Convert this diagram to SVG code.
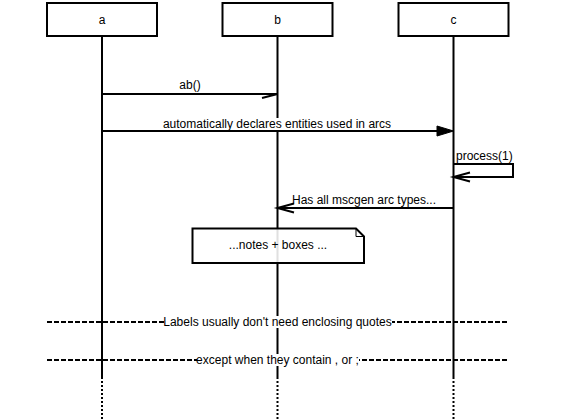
<svg xmlns="http://www.w3.org/2000/svg" width="566" height="420" viewBox="0 0 566 420">
<style>
text{font-family:"Liberation Sans",Arial,Helvetica,sans-serif;font-size:12px;fill:#000}
.box{fill:#fff;stroke:#000;stroke-width:2}
.life{stroke:#000;stroke-width:2;fill:none}
.dot{stroke:#000;stroke-width:2;stroke-dasharray:2,2;fill:none}
.arc{stroke:#000;stroke-width:2;fill:none}
.dash{stroke:#000;stroke-width:2;stroke-dasharray:5,2;fill:none}
.lbg{fill:#fff}
</style>
<rect width="566" height="420" fill="#fff"/>
<g id="lifelines">
<line class="life" x1="102" y1="36" x2="102" y2="379"/>
<line class="life" x1="277.5" y1="36" x2="277.5" y2="379"/>
<line class="life" x1="453.5" y1="36" x2="453.5" y2="379"/>
<line class="dot" x1="102" y1="381" x2="102" y2="420"/>
<line class="dot" x1="277.5" y1="381" x2="277.5" y2="420"/>
<line class="dot" x1="453.5" y1="381" x2="453.5" y2="420"/>
</g>
<g id="a"><rect class="box" x="47" y="3" width="110" height="33"/><text x="102" y="24" text-anchor="middle">a</text></g>
<g id="b"><rect class="box" x="222.5" y="3" width="110" height="33"/><text x="277.5" y="24" text-anchor="middle">b</text></g>
<g id="c"><rect class="box" x="398.5" y="3" width="110" height="33"/><text x="453.5" y="24" text-anchor="middle">c</text></g>
<g id="connectors">
<g id="arc-ab">
<text x="190" y="89" text-anchor="middle">ab()</text>
<line class="arc" x1="102" y1="94" x2="277.5" y2="94"/>
<path class="arc" d="M262 98 L277.5 94"/>
</g>
<g id="arc-ac">
<rect class="lbg" x="163" y="118" width="228" height="12"/>
<text x="277" y="128" text-anchor="middle">automatically declares entities used in arcs</text>
<line class="arc" x1="102" y1="131" x2="438" y2="131"/>
<path d="M437 126 L453.5 131 L437 136 Z" fill="#000" stroke="#000" stroke-width="1"/>
</g>
<g id="arc-cc">
<text x="456" y="160">process(1)</text>
<path class="arc" d="M453.5 164 H513 V177 H453.5"/>
<path class="arc" d="M470 172.5 L453.5 177 L470 181.5"/>
</g>
<g id="arc-cb">
<text x="364" y="204" text-anchor="middle">Has all mscgen arc types...</text>
<line class="arc" x1="453.5" y1="208" x2="277.5" y2="208"/>
<path class="arc" d="M294 203.5 L277.5 208 L294 212.5"/>
</g>
<g id="note">
<path d="M192.5 228.5 H356 L364 236.5 V263 H192.5 Z" fill="#fff" fill-opacity="0.88" stroke="#000" stroke-width="2"/>
<path d="M356 228.5 V236.5 H364" fill="none" stroke="#000" stroke-width="1"/>
<text x="278" y="249" text-anchor="middle">...notes + boxes ...</text>
</g>
<g id="sep1">
<line class="dash" x1="47" y1="322" x2="509" y2="322"/>
<rect class="lbg" x="164" y="316" width="228" height="12"/>
<text x="277.5" y="326" text-anchor="middle">Labels usually don't need enclosing quotes</text>
</g>
<g id="sep2">
<line class="dash" x1="47" y1="360" x2="509" y2="360"/>
<rect class="lbg" x="197" y="354" width="162" height="12"/>
<text x="277.5" y="364" text-anchor="middle">except when they contain , or ;</text>
</g>
</g>
</svg>
